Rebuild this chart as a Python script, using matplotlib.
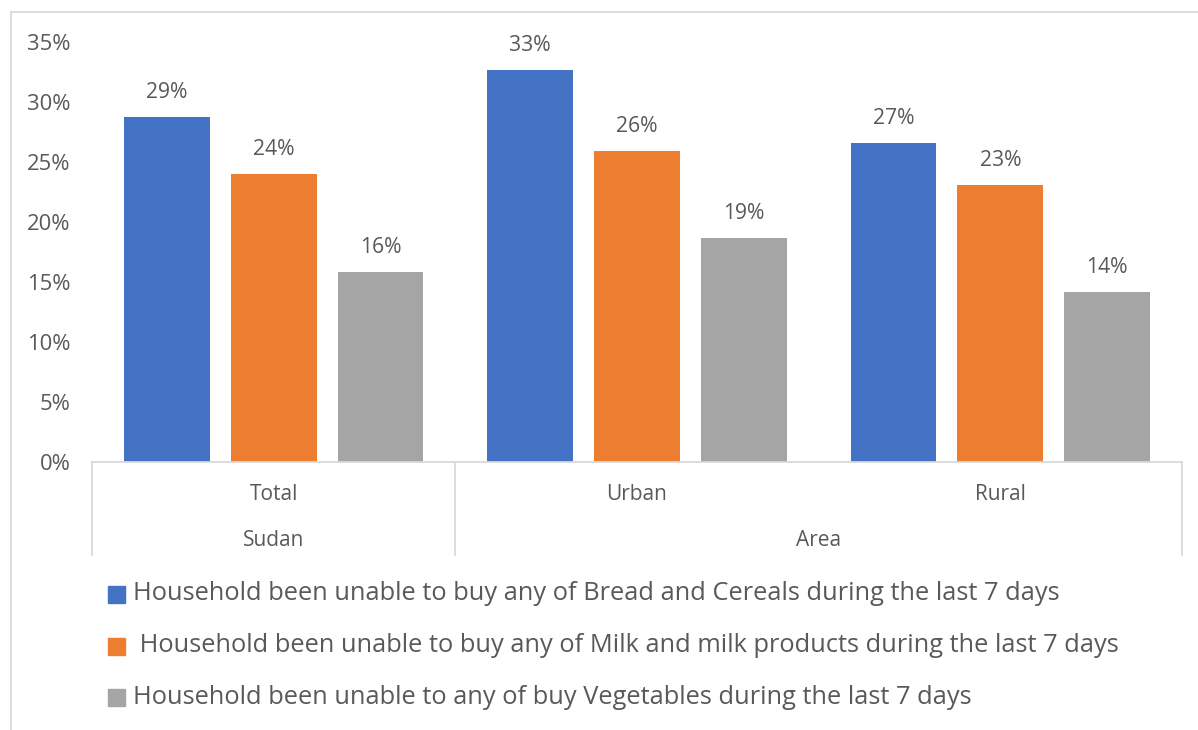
import matplotlib
matplotlib.use("Agg")
import matplotlib.pyplot as plt
from matplotlib.lines import Line2D
from matplotlib.patches import Rectangle

plt.rcParams['font.family'] = ['Open Sans', 'DejaVu Sans']

groups = ["Total", "Urban", "Rural"]
outer_groups = ["Sudan", "Area"]
outer_spans = [(0, 0), (1, 2)]  # indices of inner groups covered by each outer label
series_names = [
    "Household been unable to buy any of Bread and Cereals during the last 7 days",
    " Household been unable to buy any of Milk and milk products during the last 7 days",
    "Household been unable to any of buy Vegetables during the last 7 days",
]
bread = [28.75, 32.67, 26.56]
milk = [24.0, 25.92, 23.08]
veg = [15.83, 18.67, 14.17]
series = [bread, milk, veg]
colors = ["#4472C4", "#ED7D31", "#A5A5A5"]
yticks = [0, 5, 10, 15, 20, 25, 30, 35]

TXT = "#595959"
GRID = "#D9D9D9"
W, H = 1198, 730

fig = plt.figure(figsize=(W / 100, H / 100), dpi=100)
ax = fig.add_axes([92 / W, (H - 462) / H, 1090 / W, 420 / H])

bw = 0.236
step = 0.294
for k, (vals, col) in enumerate(zip(series, colors)):
    xs = [i + (k - 1) * step for i in range(len(groups))]
    ax.bar(xs, vals, width=bw, color=col, zorder=2)
    for x, v in zip(xs, vals):
        ax.annotate(f"{v:.0f}%", (x, v), xytext=(0, 10), textcoords="offset points",
                    ha="center", va="bottom", fontsize=15.2, color=TXT)

ax.set_xlim(-0.5, 2.5)
ax.set_ylim(0, 35)
ax.set_yticks(yticks)
ax.set_yticklabels([f"{t}%" for t in yticks], fontsize=15.8, color=TXT)
ax.tick_params(axis="y", length=0, pad=15.5)
ax.set_xticks([])
for s in ["top", "right", "left"]:
    ax.spines[s].set_visible(False)
ax.spines["bottom"].set_color(GRID)
ax.spines["bottom"].set_linewidth(1.3)

# multi-level category axis
ybot = -(555 - 462) / 420
for xv in [-0.5, 0.5, 2.5]:
    ax.add_line(Line2D([xv, xv], [0, ybot], transform=ax.get_xaxis_transform(),
                       color=GRID, lw=1.3, clip_on=False))
y1 = -(494 - 462) / 420
y2 = -(540 - 462) / 420
for i, g in enumerate(groups):
    ax.text(i, y1, g, transform=ax.get_xaxis_transform(), ha="center", va="center",
            fontsize=15, color=TXT)
for lab, (a, b) in zip(outer_groups, outer_spans):
    ax.text((a + b) / 2, y2, lab, transform=ax.get_xaxis_transform(), ha="center",
            va="center", fontsize=15, color=TXT)

# legend
leg_y = [594, 646, 697]
for name, col, yy in zip(series_names, colors, leg_y):
    fig.patches.append(Rectangle((108 / W, (H - yy - 8.5) / H), 17 / W, 17 / H,
                                 transform=fig.transFigure, color=col))
    fig.text(133 / W, (H - yy) / H, name, ha="left", va="center",
             fontsize=18.3, color=TXT)

# chart frame (top and left edges)
fig.add_artist(Line2D([11 / W, 1], [(H - 12) / H] * 2, transform=fig.transFigure,
                      color=GRID, lw=1.3))
fig.add_artist(Line2D([11 / W] * 2, [0, (H - 12) / H], transform=fig.transFigure,
                      color=GRID, lw=1.3))

fig.savefig("out.png", dpi=100, facecolor="white")
